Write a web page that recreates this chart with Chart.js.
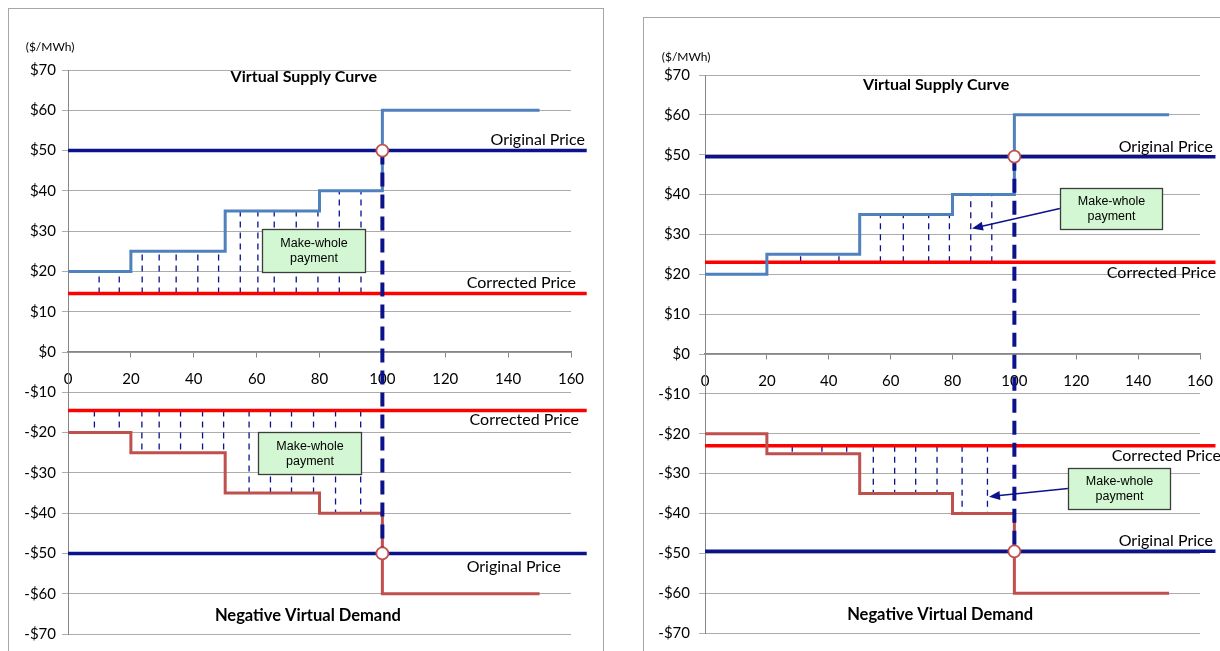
<!DOCTYPE html>
<html>
<head>
<meta charset="utf-8">
<title>Virtual supply and demand make-whole payment</title>
<script src="https://cdn.jsdelivr.net/npm/chart.js@4.4.1/dist/chart.umd.min.js"></script>
<style>
    body { margin: 0; background: #fff; width: 1220px; height: 651px; overflow: hidden; position: relative; }
    .frame { position: absolute; border: 1px solid #a6a6a6; }
    .panel { position: absolute; top: 0; width: 610px; height: 651px; }
</style>
</head>
<body>
<div class="frame" style="left:8px; top:8px; width:594px; height:700px;"></div>
<div class="frame" style="left:643px; top:17px; width:640px; height:700px;"></div>
<div class="panel" style="left:0px;"><canvas id="leftChart" width="610" height="651"></canvas></div>
<div class="panel" style="left:610px;"><canvas id="rightChart" width="610" height="651"></canvas></div>

<script>
// נתוני הגרף - מדרגות ההיצע והביקוש
const stepQty = [0, 20, 50, 80, 100, 150];        // MWh where each step starts
const supplyPrice = [20, 25, 35, 40, 60, 60];     // Virtual Supply Curve
const demandPrice = [-20, -25, -35, -40, -60, -60]; // Negative Virtual Demand
const clearQty = 100;
const priceLineQty = [0, 165];                    // price lines run past the axis end

const xTicks = [0, 20, 40, 60, 80, 100, 120, 140, 160];
const yTicks = [70, 60, 50, 40, 30, 20, 10, 0, -10, -20, -30, -40, -50, -60, -70];

// left picture
const leftOriginal = 50;
const leftCorrected = 14.5;
const leftSupplyHatch = [9.9, 16.3, 23.6, 29, 34.4, 41.3, 47.9, 54.8, 60.4, 65.6, 72.6, 79.5, 86.3, 93.2];
const leftDemandHatch = [8.4, 16.3, 23.5, 29, 35.8, 42.8, 49.5, 57.6, 64.4, 71.1, 78.1, 85.1, 93.1];

// right picture
const rightOriginal = 49.5;
const rightCorrected = 23;
const rightSupplyHatch = [30.9, 43.3, 56.7, 64.1, 72.3, 79, 85.9, 92.7];
const rightDemandHatch = [28.2, 37.8, 45.8, 54.4, 61.3, 68.1, 75, 83.1, 91.3];

const NAVY = "#0b128c";

Chart.defaults.font.family = "Lato, 'Liberation Sans', sans-serif";
Chart.defaults.font.size = 14;
Chart.defaults.color = "#000";

// ערך המדרגה בנקודה x
function stepValue(x, prices) {
    let value = prices[0];
    for (let i = 0; i < stepQty.length; i++) {
        if (stepQty[i] <= x) value = prices[i];
    }
    return value;
}

function stepPoints(prices) {
    return stepQty.map((q, i) => ({ x: q, y: prices[i] }));
}

// קווים מקווקווים דקים בין המחיר המתוקן לעקומה
function hatchPoints(xs, from, prices) {
    const pts = [];
    xs.forEach(function (x) {
        pts.push({ x: x, y: from }, { x: x, y: stepValue(x, prices) }, { x: x, y: null });
    });
    return pts;
}

function priceLine(value) {
    return priceLineQty.map(q => ({ x: q, y: value }));
}

function notesPlugin(notes) {
    return {
        id: "notes",
        afterDatasetsDraw(chart) {
            const ctx = chart.ctx;
            const xs = chart.scales.x;
            const ys = chart.scales.y;
            const px = v => xs.getPixelForValue(v);
            const py = v => ys.getPixelForValue(v);
            ctx.save();

            // arrows
            notes.arrows.forEach(function (a) {
                const x1 = px(a.from[0]), y1 = py(a.from[1]);
                const x2 = px(a.to[0]), y2 = py(a.to[1]);
                const ang = Math.atan2(y2 - y1, x2 - x1);
                ctx.strokeStyle = NAVY;
                ctx.fillStyle = NAVY;
                ctx.lineWidth = 1.5;
                ctx.beginPath();
                ctx.moveTo(x1, y1);
                ctx.lineTo(x2 - 8 * Math.cos(ang), y2 - 8 * Math.sin(ang));
                ctx.stroke();
                ctx.beginPath();
                ctx.moveTo(x2, y2);
                ctx.lineTo(x2 - 11 * Math.cos(ang) + 4.5 * Math.sin(ang), y2 - 11 * Math.sin(ang) - 4.5 * Math.cos(ang));
                ctx.lineTo(x2 - 11 * Math.cos(ang) - 4.5 * Math.sin(ang), y2 - 11 * Math.sin(ang) + 4.5 * Math.cos(ang));
                ctx.closePath();
                ctx.fill();
            });

            // make-whole boxes
            notes.boxes.forEach(function (b) {
                const x1 = Math.round(px(b.x[0])) + 0.5, x2 = Math.round(px(b.x[1])) + 0.5;
                const y1 = Math.round(py(b.y[0])) + 0.5, y2 = Math.round(py(b.y[1])) + 0.5;
                ctx.fillStyle = "#d2f7d2";
                ctx.fillRect(x1, y1, x2 - x1, y2 - y1);
                ctx.strokeStyle = "#3c3c3c";
                ctx.lineWidth = 1.3;
                ctx.strokeRect(x1, y1, x2 - x1, y2 - y1);
                ctx.fillStyle = "#000";
                ctx.font = "12.5px 'Liberation Sans', Arial, sans-serif";
                ctx.textAlign = "center";
                ctx.textBaseline = "middle";
                const cx = (x1 + x2) / 2, cy = (y1 + y2) / 2;
                ctx.fillText("Make-whole", cx, cy - 7);
                ctx.fillText("payment", cx, cy + 8);
            });

            // text labels
            notes.labels.forEach(function (l) {
                ctx.font = (l.bold ? "bold " : "") + l.size + "px Lato, 'Liberation Sans', sans-serif";
                ctx.fillStyle = "#000";
                ctx.textAlign = l.align;
                ctx.textBaseline = "middle";
                ctx.fillText(l.text, px(l.x), py(l.y));
            });
            ctx.restore();
        }
    };
}

function makeChart(canvasId, cfg) {
    const ctx = document.getElementById(canvasId).getContext("2d");
    const hatchStyle = { borderColor: NAVY, borderWidth: 1.3, borderDash: [6, 5], pointRadius: 0, spanGaps: false, order: 6 };

    return new Chart(ctx, {
        type: "scatter",
        data: {
            datasets: [
                { label: "Clearing points", data: [{ x: clearQty, y: cfg.original }, { x: clearQty, y: -cfg.original }],
                  showLine: false, pointRadius: 6, pointBorderWidth: 1.8, pointBackgroundColor: "#fff", pointBorderColor: "#c0504d", order: 0 },
                { label: "Cleared quantity", data: [{ x: clearQty, y: cfg.original }, { x: clearQty, y: -cfg.original }],
                  showLine: true, borderColor: NAVY, borderWidth: 4, borderDash: [14, 8], pointRadius: 0, order: 1 },
                { label: "Original Price", data: priceLine(cfg.original), showLine: true, borderColor: NAVY, borderWidth: 3.5, pointRadius: 0, clip: false, order: 2 },
                { label: "Original Price (demand)", data: priceLine(-cfg.original), showLine: true, borderColor: NAVY, borderWidth: 3.5, pointRadius: 0, clip: false, order: 2 },
                { label: "Virtual Supply Curve", data: stepPoints(supplyPrice), showLine: true, stepped: "before", borderColor: "#4f81bd", borderWidth: 3, pointRadius: 0, order: 3 },
                { label: "Negative Virtual Demand", data: stepPoints(demandPrice), showLine: true, stepped: "before", borderColor: "#c0504d", borderWidth: 3, pointRadius: 0, order: 3 },
                { label: "Corrected Price", data: priceLine(cfg.corrected), showLine: true, borderColor: "#ff0000", borderWidth: 3.5, pointRadius: 0, clip: false, order: 4 },
                { label: "Corrected Price (demand)", data: priceLine(-cfg.corrected), showLine: true, borderColor: "#ff0000", borderWidth: 3.5, pointRadius: 0, clip: false, order: 4 },
                Object.assign({ label: "Supply make-whole", data: hatchPoints(cfg.supplyHatch, cfg.corrected, supplyPrice), showLine: true }, hatchStyle),
                Object.assign({ label: "Demand make-whole", data: hatchPoints(cfg.demandHatch, -cfg.corrected, demandPrice), showLine: true }, hatchStyle)
            ]
        },
        options: {
            responsive: false,
            animation: false,
            layout: { padding: cfg.padding },
            plugins: { legend: { display: false }, tooltip: { enabled: false } },
            scales: {
                x: {
                    type: "linear",
                    position: { y: 0 },
                    min: 0,
                    max: 160,
                    afterBuildTicks: s => { s.ticks = xTicks.map(v => ({ value: v })); },
                    afterFit: s => { s.height = 0; s.paddingLeft = 0; s.paddingRight = 0; },
                    border: { color: "#868686", width: 1.5 },
                    grid: { display: true, drawOnChartArea: false, tickLength: 5, color: "#868686" },
                    ticks: { padding: cfg.xPad, maxRotation: 0, font: { size: 15 } }
                },
                y: {
                    type: "linear",
                    min: -70,
                    max: 70,
                    afterBuildTicks: s => { s.ticks = yTicks.map(v => ({ value: v })); },
                    afterFit: s => { s.width = cfg.yWidth; },
                    border: { color: "#868686", width: 1 },
                    grid: { color: "#acacac", lineWidth: 1, tickLength: 6 },
                    ticks: {
                        padding: cfg.yPad,
                        font: { size: 15 },
                        callback: v => (v < 0 ? "-$" + Math.abs(v) : "$" + v)
                    }
                }
            }
        },
        plugins: [notesPlugin(cfg.notes)]
    });
}

makeChart("leftChart", {
    original: leftOriginal,
    corrected: leftCorrected,
    supplyHatch: leftSupplyHatch,
    demandHatch: leftDemandHatch,
    padding: { left: 0, right: 39, top: 70, bottom: 17 },
    yWidth: 68,
    yPad: 6,
    xPad: 13,
    notes: {
        boxes: [
            { x: [61.7, 94.5], y: [30.5, 19.9] },
            { x: [60.3, 93.1], y: [-19.9, -30.3] }
        ],
        arrows: [],
        labels: [
            { text: "($/MWh)", x: -5.7, y: 75.8, align: "center", size: 12, bold: false },
            { text: "Virtual Supply Curve", x: 75, y: 68.2, align: "center", size: 16, bold: true },
            { text: "Original Price", x: 164.4, y: 52.6, align: "right", size: 16, bold: false },
            { text: "Corrected Price", x: 161.6, y: 17.1, align: "right", size: 16, bold: false },
            { text: "Corrected Price", x: 162.5, y: -16.9, align: "right", size: 16, bold: false },
            { text: "Original Price", x: 156.8, y: -53.3, align: "right", size: 16, bold: false },
            { text: "Negative Virtual Demand", x: 76.3, y: -65.5, align: "center", size: 16.5, bold: true }
        ]
    }
});

makeChart("rightChart", {
    original: rightOriginal,
    corrected: rightCorrected,
    supplyHatch: rightSupplyHatch,
    demandHatch: rightDemandHatch,
    padding: { left: 0, right: 20, top: 75, bottom: 16 },
    yWidth: 95,
    yPad: 9,
    xPad: 13,
    notes: {
        boxes: [
            { x: [114.7, 147.7], y: [41.75, 31.25] },
            { x: [117.3, 150.3], y: [-28.5, -39] }
        ],
        arrows: [
            { from: [114.7, 36.5], to: [86.3, 31.5] },
            { from: [117.3, -33.75], to: [91.8, -35.8] }
        ],
        labels: [
            { text: "($/MWh)", x: -6.1, y: 74.5, align: "center", size: 12, bold: false },
            { text: "Virtual Supply Curve", x: 74.7, y: 67.5, align: "center", size: 16, bold: true },
            { text: "Original Price", x: 164.2, y: 52, align: "right", size: 16, bold: false },
            { text: "Corrected Price", x: 165.2, y: 20.25, align: "right", size: 16, bold: false },
            { text: "Corrected Price", x: 166.8, y: -25.5, align: "right", size: 16, bold: false },
            { text: "Original Price", x: 164.2, y: -47, align: "right", size: 16, bold: false },
            { text: "Negative Virtual Demand", x: 76, y: -65.5, align: "center", size: 16.5, bold: true }
        ]
    }
});
</script>
</body>
</html>
